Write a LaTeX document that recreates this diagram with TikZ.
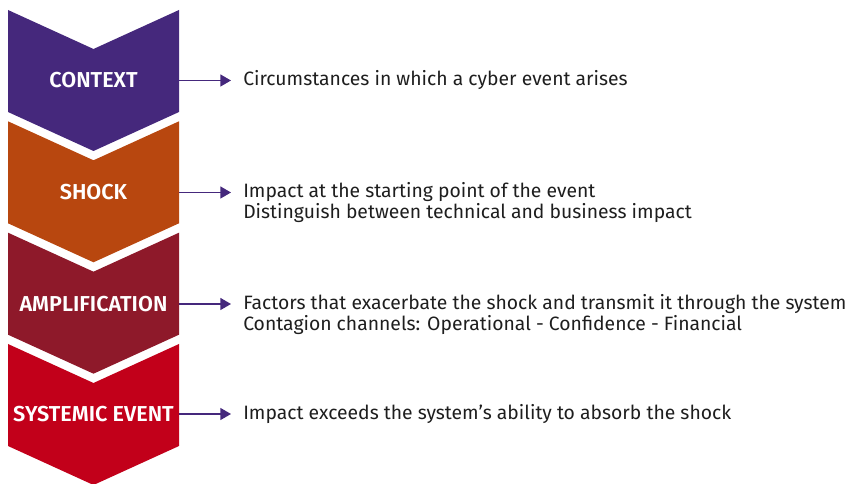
\documentclass[tikz,border=0pt]{standalone}
\usepackage{fontspec}
\setmainfont{Fira Sans}[BoldFont={Fira Sans SemiBold}]
\usetikzlibrary{arrows.meta}

\definecolor{ctxpurple}{HTML}{45287C}
\definecolor{shockorange}{HTML}{B8470F}
\definecolor{ampred}{HTML}{8E192A}
\definecolor{sysred}{HTML}{C2001A}
\definecolor{desctext}{HTML}{1E1E1E}

\begin{document}
\begin{tikzpicture}[
  x=0.75pt, y=-0.75pt,
  stage/.style={font=\bfseries\fontsize{16.2}{18}\selectfont, text=white, inner sep=0pt},
  desc/.style={font=\fontsize{14.5}{15.75}\selectfont, text=desctext, align=left, anchor=base west, inner xsep=9pt, inner ysep=0pt},
  arrow/.style={-{Triangle[length=8pt, width=9pt]}, draw=ctxpurple, fill=ctxpurple, line width=1pt},
]

\useasboundingbox (0,0) rectangle (854,484);

% === Chevrons ===
\fill[ctxpurple]   (8,10)    -- (93.5,49)    -- (179,10)    -- (179,112)   -- (93.5,151)   -- (8,112)   -- cycle;
\fill[shockorange] (8,121.3) -- (93.5,160.3) -- (179,121.3) -- (179,223.3) -- (93.5,262.3) -- (8,223.3) -- cycle;
\fill[ampred]      (8,232.7) -- (93.5,271.7) -- (179,232.7) -- (179,334.7) -- (93.5,373.7) -- (8,334.7) -- cycle;
\fill[sysred]      (8,344)   -- (93.5,383)   -- (179,344)   -- (179,446)   -- (93.5,485)   -- (8,446)   -- cycle;

% === Stage names ===
\node[stage] (ctx)   at (93.5,80.5)  {CONTEXT};
\node[stage] (shock) at (93.5,192.5) {SHOCK};
\node[stage] (amp)   at (93.5,304)   {AMPLIFICATION};
\node[stage] (sys)   at (93.5,414)   {SYSTEMIC EVENT};

% right edges, where the arrows leave
\coordinate (ctx-r)   at (179,80.5);
\coordinate (shock-r) at (179,192.5);
\coordinate (amp-r)   at (179,304);
\coordinate (sys-r)   at (179,414);

% === Descriptions (base = last line) ===
\node[desc] (ctx-d)   at (231,86)    {Circumstances in which a cyber event arises};
\node[desc] (shock-d) at (231,219)   {Impact at the starting point of the event\\Distinguish between technical and business impact};
\node[desc] (amp-d)   at (231,330.5) {Factors that exacerbate the shock and transmit it through the system\\Contagion channels: Operational - Confidence - Financial};
\node[desc] (sys-d)   at (231,419.5) {Impact exceeds the system’s ability to absorb the shock};

% === Arrows ===
\draw[arrow] (ctx-r)   -- (ctx-r -| ctx-d.west);
\draw[arrow] (shock-r) -- (shock-r -| shock-d.west);
\draw[arrow] (amp-r)   -- (amp-r -| amp-d.west);
\draw[arrow] (sys-r)   -- (sys-r -| sys-d.west);

\end{tikzpicture}
\end{document}
